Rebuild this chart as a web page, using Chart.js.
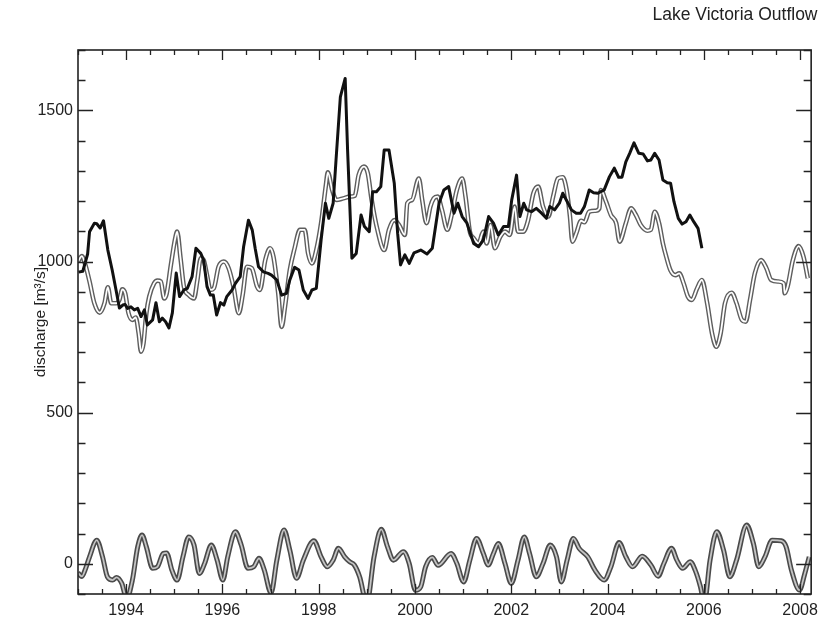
<!DOCTYPE html>
<html>
<head>
<meta charset="utf-8">
<script src="https://cdn.jsdelivr.net/npm/chart.js@4"></script>
<style>
  html, body { margin: 0; padding: 0; background: #fff; }
  #wrap { width: 825px; height: 621px; }
</style>
</head>
<body>
<div id="wrap"><canvas id="outflowChart" width="825" height="621"></canvas></div>
<script>
// observed outflow (thick black)
const obsYears = [
  1993.01, 1993.10, 1993.20, 1993.24, 1993.34, 1993.39, 1993.46, 1993.53, 1993.62, 1993.71,
  1993.79, 1993.86, 1993.93, 1993.98, 1994.03, 1994.10, 1994.17, 1994.24, 1994.31, 1994.38,
  1994.44, 1994.55, 1994.62, 1994.69, 1994.75, 1994.82, 1994.89, 1994.96, 1995.04, 1995.11,
  1995.20, 1995.27, 1995.37, 1995.45, 1995.55, 1995.61, 1995.68, 1995.75, 1995.81, 1995.88,
  1995.96, 1996.03, 1996.09, 1996.20, 1996.27, 1996.37, 1996.44, 1996.54, 1996.62, 1996.68,
  1996.75, 1996.85, 1996.95, 1997.02, 1997.13, 1997.23, 1997.33, 1997.40, 1997.50, 1997.59,
  1997.68, 1997.78, 1997.86, 1997.95, 1998.05, 1998.14, 1998.21, 1998.30, 1998.36, 1998.45,
  1998.55, 1998.60, 1998.69, 1998.78, 1998.88, 1998.95, 1999.05, 1999.12, 1999.20, 1999.29,
  1999.36, 1999.46, 1999.57, 1999.64, 1999.70, 1999.79, 1999.88, 1999.98, 2000.12, 2000.25,
  2000.36, 2000.50, 2000.60, 2000.70, 2000.81, 2000.89, 2000.98, 2001.08, 2001.22, 2001.32,
  2001.42, 2001.53, 2001.63, 2001.73, 2001.84, 2001.94, 2002.01, 2002.11, 2002.18, 2002.26,
  2002.32, 2002.42, 2002.52, 2002.63, 2002.73, 2002.80, 2002.90, 2003.00, 2003.07, 2003.18,
  2003.25, 2003.35, 2003.44, 2003.52, 2003.62, 2003.71, 2003.80, 2003.93, 2004.04, 2004.14,
  2004.23, 2004.30, 2004.38, 2004.46, 2004.55, 2004.65, 2004.74, 2004.83, 2004.90, 2004.98,
  2005.07, 2005.15, 2005.24, 2005.31, 2005.38, 2005.47, 2005.55, 2005.63, 2005.71, 2005.79,
  2005.88, 2005.96
];
const obsFlow = [
  965, 968, 1025, 1099, 1127, 1125, 1111, 1135, 1038, 972,
  906, 846, 856, 858, 845, 850, 840, 845, 818, 840,
  790, 807, 864, 801, 813, 801, 780, 830, 962, 884,
  906, 911, 950, 1044, 1027, 1005, 917, 889, 889, 823,
  864, 856, 884, 906, 928, 950, 1049, 1137, 1104, 1044,
  983, 966, 961, 955, 939, 889, 895, 939, 981, 972,
  906, 878, 906, 911, 1071, 1193, 1143, 1193, 1336, 1545,
  1606, 1369, 1011, 1027, 1154, 1116, 1099, 1231, 1231, 1248,
  1369, 1369, 1259, 1093, 989, 1022, 994, 1029, 1038, 1025,
  1044, 1193, 1237, 1248, 1160, 1193, 1149, 1127, 1060, 1049,
  1071, 1149, 1127, 1088, 1116, 1116, 1204, 1286, 1149, 1193,
  1171, 1165, 1176, 1160, 1143, 1182, 1171, 1193, 1226, 1193,
  1171, 1160, 1160, 1182, 1237, 1228, 1226, 1237, 1281, 1309,
  1279, 1279, 1330, 1358, 1393, 1358, 1356, 1333, 1336, 1358,
  1336, 1270, 1261, 1259, 1198, 1143, 1124, 1132, 1154, 1132,
  1110, 1044
];

// modelled outflow (double grey line)
const modelYears = [
  1993.00, 1993.08, 1993.16, 1993.24, 1993.34, 1993.45, 1993.55, 1993.62, 1993.69, 1993.79,
  1993.86, 1993.92, 1993.98, 1994.05, 1994.13, 1994.20, 1994.26, 1994.31, 1994.36, 1994.42,
  1994.48, 1994.58, 1994.65, 1994.72, 1994.79, 1994.84, 1994.93, 1995.02, 1995.06, 1995.13,
  1995.20, 1995.30, 1995.41, 1995.48, 1995.55, 1995.61, 1995.68, 1995.75, 1995.82, 1995.92,
  1996.03, 1996.13, 1996.23, 1996.34, 1996.42, 1996.51, 1996.61, 1996.72, 1996.78, 1996.89,
  1996.99, 1997.06, 1997.16, 1997.23, 1997.30, 1997.40, 1997.50, 1997.61, 1997.71, 1997.78,
  1997.86, 1997.95, 1998.05, 1998.15, 1998.19, 1998.28, 1998.37, 1998.51, 1998.65, 1998.75,
  1998.83, 1998.94, 1999.02, 1999.10, 1999.22, 1999.36, 1999.46, 1999.57, 1999.67, 1999.79,
  1999.84, 1999.94, 2000.08, 2000.15, 2000.24, 2000.32, 2000.39, 2000.47, 2000.56, 2000.67,
  2000.77, 2000.87, 2000.98, 2001.05, 2001.14, 2001.22, 2001.32, 2001.42, 2001.49, 2001.57,
  2001.66, 2001.77, 2001.87, 2001.97, 2002.07, 2002.14, 2002.25, 2002.35, 2002.46, 2002.56,
  2002.66, 2002.77, 2002.87, 2002.97, 2003.07, 2003.15, 2003.22, 2003.27, 2003.35, 2003.45,
  2003.52, 2003.62, 2003.75, 2003.83, 2003.86, 2003.97, 2004.07, 2004.18, 2004.25, 2004.38,
  2004.49, 2004.59, 2004.69, 2004.83, 2004.90, 2004.98, 2005.07, 2005.15, 2005.22, 2005.31,
  2005.41, 2005.49, 2005.58, 2005.67, 2005.75, 2005.86, 2005.96, 2006.07, 2006.17, 2006.26,
  2006.35, 2006.44, 2006.58, 2006.68, 2006.79, 2006.87, 2006.96, 2007.06, 2007.19, 2007.30,
  2007.40, 2007.54, 2007.66, 2007.68, 2007.74, 2007.85, 2007.97, 2008.07, 2008.16
];
const modelFlow = [
  1000, 1018, 985, 934, 862, 831, 862, 915, 862, 862,
  873, 908, 895, 829, 807, 815, 763, 702, 729, 829,
  884, 928, 937, 934, 878, 893, 989, 1077, 1099, 1011,
  917, 889, 878, 939, 1011, 1005, 955, 906, 911, 983,
  1000, 978, 917, 829, 889, 983, 978, 917, 906, 1005,
  1044, 1016, 895, 784, 851, 972, 1044, 1105, 1105, 1027,
  994, 1038, 1127, 1253, 1295, 1237, 1204, 1209, 1215, 1218,
  1286, 1314, 1292, 1204, 1105, 1038, 1105, 1137, 1121, 1088,
  1193, 1204, 1275, 1204, 1127, 1182, 1209, 1215, 1171, 1105,
  1160, 1237, 1275, 1215, 1099, 1077, 1060, 1099, 1060, 1121,
  1044, 1082, 1099, 1088, 1182, 1099, 1099, 1137, 1226, 1248,
  1182, 1149, 1215, 1275, 1279, 1237, 1149, 1066, 1093, 1135,
  1130, 1165, 1168, 1176, 1237, 1198, 1154, 1127, 1066, 1127,
  1176, 1154, 1121, 1102, 1105, 1165, 1127, 1060, 1016, 970,
  955, 961, 928, 884, 873, 911, 939, 862, 763, 718,
  763, 862, 897, 862, 807, 801, 873, 961, 1005, 978,
  939, 934, 928, 895, 917, 1005, 1051, 1016, 945
];

// residual anomaly near zero
const residYears = [
  1993.00, 1993.08, 1993.16, 1993.24, 1993.39, 1993.51, 1993.61, 1993.72, 1993.80, 1993.91,
  1994.01, 1994.13, 1994.24, 1994.33, 1994.42, 1994.55, 1994.65, 1994.77, 1994.84, 1994.95,
  1995.06, 1995.18, 1995.30, 1995.41, 1995.52, 1995.63, 1995.77, 1995.89, 1996.01, 1996.11,
  1996.27, 1996.39, 1996.53, 1996.65, 1996.76, 1996.87, 1997.01, 1997.13, 1997.28, 1997.40,
  1997.54, 1997.68, 1997.90, 1998.05, 1998.18, 1998.30, 1998.41, 1998.54, 1998.64, 1998.74,
  1998.85, 1999.00, 1999.15, 1999.30, 1999.43, 1999.55, 1999.76, 1999.88, 2000.01, 2000.12,
  2000.22, 2000.36, 2000.48, 2000.75, 2000.87, 2001.01, 2001.14, 2001.28, 2001.42, 2001.52,
  2001.63, 2001.73, 2001.87, 2002.00, 2002.14, 2002.27, 2002.38, 2002.52, 2002.66, 2002.81,
  2002.94, 2003.04, 2003.16, 2003.29, 2003.41, 2003.59, 2003.74, 2003.93, 2004.07, 2004.24,
  2004.38, 2004.52, 2004.72, 2004.90, 2005.05, 2005.17, 2005.33, 2005.44, 2005.56, 2005.72,
  2005.82, 2005.93, 2006.01, 2006.13, 2006.27, 2006.41, 2006.54, 2006.68, 2006.89, 2007.03,
  2007.14, 2007.27, 2007.42, 2007.61, 2007.71, 2007.82, 2007.99, 2008.09, 2008.19
];
const residFlow = [
  -30, -42, -15, 23, 78, 23, -43, -54, -45, -65,
  -115, -54, 56, 95, 56, -15, -10, 34, 36, -21,
  -54, 23, 89, 62, -32, 1, 62, 12, -54, 23,
  106, 62, -15, -10, 18, -21, -97, 12, 112, 45,
  -48, 12, 76, 23, -10, 12, 51, 23, 7, -4,
  -43, -130, 23, 114, 56, 12, 40, 1, -88, -76,
  -10, 21, -5, 34, 1, -60, 12, 84, 34, -4,
  34, 67, 1, -65, 12, 89, 34, -43, 1, 62,
  23, -60, 12, 84, 51, 23, -21, -54, -10, 70,
  23, -10, 25, -4, -41, 1, 51, 12, -15, 7,
  -21, -76, -130, 12, 106, 45, -43, 12, 128, 67,
  -10, 23, 78, 76, 56, -21, -87, -37, 23
];

const xTickYears = [1994, 1996, 1998, 2000, 2002, 2004, 2006, 2008];
const yTickValues = [0, 500, 1000, 1500];

const FONT = "'Liberation Sans', Arial, Helvetica, sans-serif";

function toPoints(xs, ys) {
  return xs.map((x, i) => ({ x: x, y: ys[i] }));
}

// inward tick marks on all four sides plus the box
const frameTicks = {
  id: 'frameTicks',
  afterDatasetsDraw(chart) {
    const { ctx, chartArea: a, scales: { x, y } } = chart;
    ctx.save();
    ctx.strokeStyle = '#222';
    ctx.lineWidth = 1.3;
    ctx.beginPath();
    for (let v = 1993; v <= x.max + 1e-6; v += 0.5) {
      const px = Math.round(x.getPixelForValue(v)) + 0.5;
      const len = xTickYears.includes(v) ? 10 : 5;
      ctx.moveTo(px, a.bottom); ctx.lineTo(px, a.bottom - len);
      ctx.moveTo(px, a.top); ctx.lineTo(px, a.top + len);
    }
    for (let v = -100; v <= y.max + 1e-6; v += 100) {
      const py = Math.round(y.getPixelForValue(v)) + 0.5;
      const len = v % 500 === 0 ? 15 : 7.5;
      ctx.moveTo(a.left, py); ctx.lineTo(a.left + len, py);
      ctx.moveTo(a.right, py); ctx.lineTo(a.right - len, py);
    }
    ctx.stroke();
    ctx.lineWidth = 1.6;
    ctx.strokeRect(a.left, a.top, a.width, a.height);
    ctx.restore();
  }
};

const ctx = document.getElementById('outflowChart').getContext('2d');
new Chart(ctx, {
  type: 'line',
  data: {
    datasets: [
      {
        label: 'observed',
        data: toPoints(obsYears, obsFlow),
        borderColor: '#111',
        borderWidth: 3,
        tension: 0,
        order: 0
      },
      {
        label: 'model (inner)',
        data: toPoints(modelYears, modelFlow),
        borderColor: '#ffffff',
        borderWidth: 1.8,
        cubicInterpolationMode: 'monotone',
        order: 1
      },
      {
        label: 'model',
        data: toPoints(modelYears, modelFlow),
        borderColor: '#5e5e5e',
        borderWidth: 4.6,
        cubicInterpolationMode: 'monotone',
        order: 2
      },
      {
        label: 'residual (inner)',
        data: toPoints(residYears, residFlow),
        borderColor: '#c4c4c4',
        borderWidth: 1.8,
        cubicInterpolationMode: 'monotone',
        order: 3
      },
      {
        label: 'residual',
        data: toPoints(residYears, residFlow),
        borderColor: '#4a4a4a',
        borderWidth: 5,
        cubicInterpolationMode: 'monotone',
        order: 4
      }
    ]
  },
  options: {
    responsive: false,
    animation: false,
    clip: 0,
    layout: { padding: { left: 0, right: 7.5, top: 0, bottom: 0 } },
    elements: { point: { radius: 0 }, line: { borderCapStyle: 'butt', borderJoinStyle: 'round' } },
    plugins: {
      legend: { display: false },
      tooltip: { enabled: false },
      title: {
        display: true,
        text: 'Lake Victoria Outflow',
        align: 'end',
        color: '#222',
        font: { family: FONT, size: 17.5, weight: 'normal' },
        padding: { top: 5, bottom: 24 }
      }
    },
    scales: {
      x: {
        type: 'linear',
        min: 1993,
        max: 2008.23,
        grid: { display: false, drawTicks: false },
        border: { display: false },
        afterBuildTicks: (axis) => { axis.ticks = xTickYears.map(v => ({ value: v })); },
        afterFit: (axis) => { axis.height = 27; },
        ticks: {
          autoSkip: false,
          maxRotation: 0,
          padding: 7,
          color: '#222',
          font: { family: FONT, size: 16 },
          callback: (v) => String(v)
        }
      },
      y: {
        type: 'linear',
        min: -100,
        max: 1700,
        grid: { display: false, drawTicks: false },
        border: { display: false },
        afterBuildTicks: (axis) => { axis.ticks = yTickValues.map(v => ({ value: v })); },
        afterFit: (axis) => { axis.width = 78; },
        title: {
          display: true,
          text: 'discharge [m³/s]',
          color: '#222',
          font: { family: FONT, size: 15.5 },
          padding: { top: 31, bottom: 0 }
        },
        ticks: {
          padding: 5,
          color: '#222',
          font: { family: FONT, size: 16 },
          callback: (v) => String(v)
        }
      }
    }
  },
  plugins: [frameTicks]
});
</script>
</body>
</html>
